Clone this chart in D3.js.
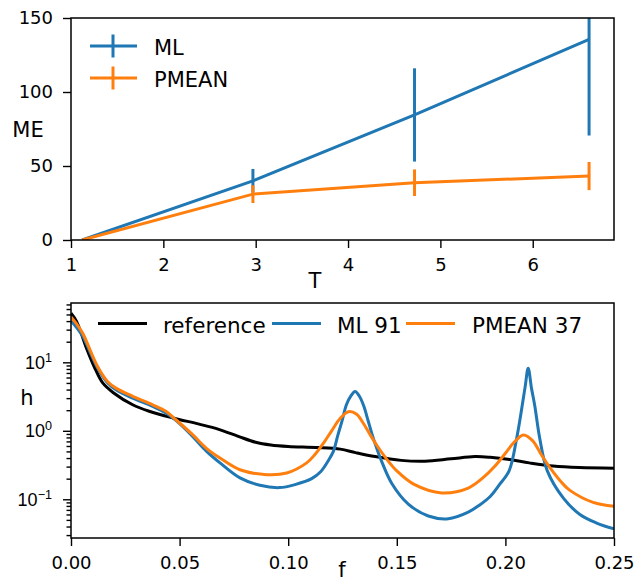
<!DOCTYPE html>
<html>
<head>
<meta charset="utf-8">
<script src="https://cdn.jsdelivr.net/npm/d3@7"></script>
<style>
  body { margin: 0; background: #fff; }
  svg { display: block; font-family: "DejaVu Sans", sans-serif; }
</style>
</head>
<body>
<svg id="chart" width="639" height="577"></svg>
<script>
// top panel: ME vs T
const tValues = [1.12, 2.97, 4.72, 6.61];
const mlME = [0, 40, 84.5, 135.6];
const mlErr = [0, 8, 31.5, 65];
const pmeanME = [0, 31, 38.7, 43.2];
const pmeanErr = [0, 6, 9, 9.5];
const topXTicks = [1, 2, 3, 4, 5, 6];
const topYTicks = [0, 50, 100, 150];

// bottom panel: h vs f (log)
const refCurve = [[0, 52], [0.0025, 40], [0.0046, 27], [0.0075, 15], [0.0107, 8.6], [0.0146, 5.0],
  [0.0195, 3.6], [0.0284, 2.4], [0.036, 1.93], [0.047, 1.54], [0.059, 1.25], [0.068, 1.05],
  [0.077, 0.83], [0.085, 0.68], [0.092, 0.62], [0.1, 0.59], [0.113, 0.57], [0.124, 0.54],
  [0.131, 0.48], [0.14, 0.42], [0.152, 0.37], [0.163, 0.36], [0.175, 0.39], [0.186, 0.42],
  [0.193, 0.41], [0.202, 0.38], [0.211, 0.34], [0.222, 0.305], [0.234, 0.29], [0.25, 0.285]];
const mlCurve = [[0, 40], [0.0027, 32], [0.0054, 24], [0.0123, 8.2], [0.0169, 5.0], [0.0207, 3.98],
  [0.0284, 3.0], [0.0376, 2.27], [0.0437, 1.82], [0.0483, 1.42], [0.056, 0.83], [0.0622, 0.51],
  [0.0686, 0.34], [0.0778, 0.205], [0.087, 0.16], [0.096, 0.148], [0.1035, 0.165], [0.1108, 0.2],
  [0.1148, 0.25], [0.1183, 0.36], [0.1208, 0.5], [0.1228, 0.85], [0.1248, 1.4], [0.1268, 2.4],
  [0.1288, 3.2], [0.1308, 3.75], [0.1328, 3.2], [0.1348, 2.3], [0.1368, 1.4], [0.1388, 0.85],
  [0.1408, 0.55], [0.1433, 0.34], [0.1477, 0.17], [0.1553, 0.085], [0.1645, 0.057], [0.1737, 0.052],
  [0.1829, 0.065], [0.188, 0.082], [0.193, 0.11], [0.197, 0.16], [0.2017, 0.26], [0.2052, 0.78],
  [0.209, 4.2], [0.2105, 8.2], [0.212, 4.2], [0.2135, 2.35], [0.2158, 0.78], [0.2193, 0.26],
  [0.2267, 0.104], [0.2343, 0.06], [0.242, 0.045], [0.25, 0.037]];
const pmeanCurve = [[0, 46], [0.0027, 36], [0.0054, 26.5], [0.0123, 8.6], [0.0169, 5.2], [0.0207, 4.2],
  [0.0284, 3.19], [0.0376, 2.4], [0.0437, 1.93], [0.0483, 1.45], [0.056, 0.877], [0.0622, 0.56],
  [0.0686, 0.4], [0.0778, 0.27], [0.0901, 0.229], [0.0993, 0.242], [0.1085, 0.34], [0.1123, 0.45],
  [0.1165, 0.68], [0.12, 1.0], [0.1238, 1.5], [0.1277, 1.9], [0.1315, 1.75], [0.1345, 1.3],
  [0.1375, 0.9], [0.141, 0.6], [0.1455, 0.38], [0.15, 0.26], [0.158, 0.165], [0.1707, 0.124],
  [0.1829, 0.146], [0.19, 0.21], [0.195, 0.3], [0.2, 0.47], [0.204, 0.68], [0.2083, 0.87],
  [0.2125, 0.72], [0.2165, 0.45], [0.2205, 0.29], [0.2267, 0.165], [0.2297, 0.135], [0.2404, 0.09],
  [0.25, 0.079]];
const botXTicks = [0, 0.05, 0.1, 0.15, 0.2, 0.25];
const botYTicks = [0.1, 1, 10];
const legendBottom = ['reference', 'ML 91', 'PMEAN 37'];

const blue = '#1f77b4', orange = '#ff7f0e';
const svg = d3.select('#chart');
const left = 71, right = 614;

function styleAxis(g) {
  g.select('.domain').remove();
  g.selectAll('.tick line').attr('stroke', '#000').attr('stroke-width', 1.4);
  g.selectAll('.tick text').attr('fill', '#000').attr('font-size', 18)
    .attr('font-family', '"DejaVu Sans", sans-serif');
}

// ---------- top panel ----------
const topY0 = 18, topY1 = 240;
const xT = d3.scaleLinear().domain([1, 6.88]).range([left, right]);
const yT = d3.scaleLinear().domain([0, 150]).range([topY1, topY0]);

svg.append('clipPath').attr('id', 'clipTop').append('rect')
  .attr('x', left).attr('y', topY0).attr('width', right - left).attr('height', topY1 - topY0);

svg.append('g').attr('transform', `translate(0,${topY1})`)
  .call(d3.axisBottom(xT).tickValues(topXTicks).tickSize(8).tickPadding(10).tickFormat(d3.format('d')))
  .call(styleAxis);
svg.append('g').attr('transform', `translate(${left},0)`)
  .call(d3.axisLeft(yT).tickValues(topYTicks).tickSize(8).tickPadding(10).tickFormat(d3.format('d')))
  .call(styleAxis);

const topSeries = [
  { vals: mlME, err: mlErr, color: blue },
  { vals: pmeanME, err: pmeanErr, color: orange }
];
const gTop = svg.append('g').attr('clip-path', 'url(#clipTop)');
topSeries.forEach(s => {
  const pts = tValues.map((t, i) => [t, s.vals[i], s.err[i]]);
  gTop.append('path').datum(pts)
    .attr('fill', 'none').attr('stroke', s.color).attr('stroke-width', 3)
    .attr('d', d3.line().x(d => xT(d[0])).y(d => yT(d[1])));
  gTop.selectAll(null).data(pts.filter(d => d[2] > 0)).enter().append('line')
    .attr('x1', d => xT(d[0])).attr('x2', d => xT(d[0]))
    .attr('y1', d => yT(d[1] - d[2])).attr('y2', d => yT(d[1] + d[2]))
    .attr('stroke', s.color).attr('stroke-width', 3);
});

svg.append('rect').attr('x', left).attr('y', topY0).attr('width', right - left).attr('height', topY1 - topY0)
  .attr('fill', 'none').attr('stroke', '#000').attr('stroke-width', 1.5);

// top legend
[['ML', blue, 46], ['PMEAN', orange, 78]].forEach(([name, c, y]) => {
  svg.append('line').attr('x1', 90).attr('x2', 137).attr('y1', y).attr('y2', y)
    .attr('stroke', c).attr('stroke-width', 3);
  svg.append('line').attr('x1', 113).attr('x2', 113).attr('y1', y - 11.5).attr('y2', y + 11.5)
    .attr('stroke', c).attr('stroke-width', 3);
  svg.append('text').attr('x', 154).attr('y', y + 8.5).attr('font-size', 21).text(name);
});

svg.append('text').attr('x', 28).attr('y', 137).attr('text-anchor', 'middle').attr('font-size', 21).text('ME');
svg.append('text').attr('x', 315).attr('y', 288).attr('text-anchor', 'middle').attr('font-size', 21).text('T');

// ---------- bottom panel ----------
const botY0 = 303, botY1 = 538;
const xB = d3.scaleLinear().domain([0, 0.25]).range([left, right]);
const yB = d3.scaleLog().domain([0.0272, 73.5]).range([botY1, botY0]);

svg.append('clipPath').attr('id', 'clipBot').append('rect')
  .attr('x', left).attr('y', botY0).attr('width', right - left).attr('height', botY1 - botY0);

svg.append('g').attr('transform', `translate(0,${botY1})`)
  .call(d3.axisBottom(xB).tickValues(botXTicks).tickSize(8).tickPadding(10).tickFormat(d3.format('.2f')))
  .call(styleAxis);

// minor log ticks
const minor = [];
[0.01, 0.1, 1, 10].forEach(dec => { for (let k = 2; k <= 9; k++) minor.push(dec * k); });
const minorIn = minor.filter(v => v >= yB.domain()[0] && v <= yB.domain()[1]);
svg.append('g').attr('transform', `translate(${left},0)`)
  .call(d3.axisLeft(yB).tickValues(minorIn).tickSize(4.5).tickFormat(''))
  .call(styleAxis);
const yAxB = svg.append('g').attr('transform', `translate(${left},0)`)
  .call(d3.axisLeft(yB).tickValues(botYTicks).tickSize(8).tickPadding(10).tickFormat(''))
  .call(styleAxis);
yAxB.selectAll('.tick').each(function (d) {
  const t = d3.select(this).append('text').attr('x', -19).attr('dy', '0.32em')
    .attr('text-anchor', 'end').attr('font-size', 18).attr('fill', '#000');
  t.append('tspan').text('10');
  t.append('tspan').attr('dy', '-0.55em').attr('font-size', 12.6).text(String(Math.round(Math.log10(d))).replace('-', '\u2212'));
});

const gBot = svg.append('g').attr('clip-path', 'url(#clipBot)');
const lineB = d3.line().x(d => xB(d[0])).y(d => yB(d[1])).curve(d3.curveCatmullRom.alpha(0.5));
[[refCurve, '#000'], [mlCurve, blue], [pmeanCurve, orange]].forEach(([data, c]) => {
  gBot.append('path').datum(data).attr('fill', 'none').attr('stroke', c)
    .attr('stroke-width', 3).attr('stroke-linejoin', 'round').attr('d', lineB);
});

svg.append('rect').attr('x', left).attr('y', botY0).attr('width', right - left).attr('height', botY1 - botY0)
  .attr('fill', 'none').attr('stroke', '#000').attr('stroke-width', 1.5);

// bottom legend
const legItems = [
  { label: legendBottom[0], color: '#000', x0: 98, tx: 163 },
  { label: legendBottom[1], color: blue, x0: 272, tx: 337 },
  { label: legendBottom[2], color: orange, x0: 406, tx: 472 }
];
legItems.forEach(it => {
  svg.append('line').attr('x1', it.x0).attr('x2', it.x0 + 49).attr('y1', 323.5).attr('y2', 323.5)
    .attr('stroke', it.color).attr('stroke-width', 3);
  svg.append('text').attr('x', it.tx).attr('y', 332.5).attr('font-size', 21.5).text(it.label);
});

svg.append('text').attr('x', 27).attr('y', 405).attr('text-anchor', 'middle').attr('font-size', 21).text('h');
svg.append('text').attr('x', 342).attr('y', 577).attr('text-anchor', 'middle').attr('font-size', 21).text('f');
</script>
</body>
</html>
